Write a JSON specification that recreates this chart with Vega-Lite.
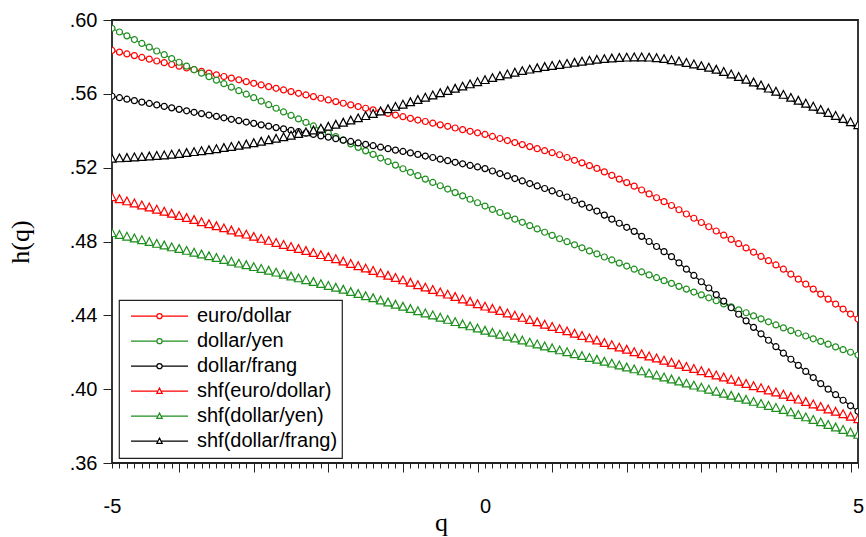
{
"$schema":"https://vega.github.io/schema/vega-lite/v6.json",
"width":746,"height":443,
"autosize":{"type":"none"},
"padding":{"left":112,"top":20,"right":8,"bottom":74},
"background":"white",
"config":{"view":{"stroke":"#222","strokeWidth":1.8},"font":"Liberation Sans"},
"data":{"values":[
{"q":-5.0,"euro/dollar":0.5835,"dollar/yen":0.5955,"dollar/frang":0.5587,"shf(euro/dollar)":0.5026,"shf(dollar/yen)":0.4831,"shf(dollar/frang)":0.5234},
{"q":-4.9,"euro/dollar":0.5826,"dollar/yen":0.5935,"dollar/frang":0.5579,"shf(euro/dollar)":0.5015,"shf(dollar/yen)":0.4821,"shf(dollar/frang)":0.5236},
{"q":-4.8,"euro/dollar":0.5816,"dollar/yen":0.5914,"dollar/frang":0.5571,"shf(euro/dollar)":0.5003,"shf(dollar/yen)":0.4812,"shf(dollar/frang)":0.5238},
{"q":-4.7,"euro/dollar":0.5807,"dollar/yen":0.5894,"dollar/frang":0.5563,"shf(euro/dollar)":0.4992,"shf(dollar/yen)":0.4802,"shf(dollar/frang)":0.5241},
{"q":-4.6,"euro/dollar":0.5797,"dollar/yen":0.5873,"dollar/frang":0.5555,"shf(euro/dollar)":0.4981,"shf(dollar/yen)":0.4793,"shf(dollar/frang)":0.5243},
{"q":-4.5,"euro/dollar":0.5788,"dollar/yen":0.5853,"dollar/frang":0.5548,"shf(euro/dollar)":0.4970,"shf(dollar/yen)":0.4783,"shf(dollar/frang)":0.5246},
{"q":-4.4,"euro/dollar":0.5778,"dollar/yen":0.5832,"dollar/frang":0.5540,"shf(euro/dollar)":0.4958,"shf(dollar/yen)":0.4773,"shf(dollar/frang)":0.5249},
{"q":-4.3,"euro/dollar":0.5769,"dollar/yen":0.5812,"dollar/frang":0.5532,"shf(euro/dollar)":0.4947,"shf(dollar/yen)":0.4764,"shf(dollar/frang)":0.5252},
{"q":-4.2,"euro/dollar":0.5759,"dollar/yen":0.5791,"dollar/frang":0.5524,"shf(euro/dollar)":0.4936,"shf(dollar/yen)":0.4754,"shf(dollar/frang)":0.5256},
{"q":-4.1,"euro/dollar":0.5750,"dollar/yen":0.5771,"dollar/frang":0.5516,"shf(euro/dollar)":0.4924,"shf(dollar/yen)":0.4745,"shf(dollar/frang)":0.5260},
{"q":-4.0,"euro/dollar":0.5740,"dollar/yen":0.5750,"dollar/frang":0.5508,"shf(euro/dollar)":0.4913,"shf(dollar/yen)":0.4735,"shf(dollar/frang)":0.5265},
{"q":-3.9,"euro/dollar":0.5731,"dollar/yen":0.5731,"dollar/frang":0.5500,"shf(euro/dollar)":0.4902,"shf(dollar/yen)":0.4725,"shf(dollar/frang)":0.5270},
{"q":-3.8,"euro/dollar":0.5722,"dollar/yen":0.5712,"dollar/frang":0.5493,"shf(euro/dollar)":0.4890,"shf(dollar/yen)":0.4715,"shf(dollar/frang)":0.5275},
{"q":-3.7,"euro/dollar":0.5712,"dollar/yen":0.5693,"dollar/frang":0.5485,"shf(euro/dollar)":0.4879,"shf(dollar/yen)":0.4706,"shf(dollar/frang)":0.5280},
{"q":-3.6,"euro/dollar":0.5703,"dollar/yen":0.5674,"dollar/frang":0.5478,"shf(euro/dollar)":0.4868,"shf(dollar/yen)":0.4696,"shf(dollar/frang)":0.5286},
{"q":-3.5,"euro/dollar":0.5694,"dollar/yen":0.5655,"dollar/frang":0.5470,"shf(euro/dollar)":0.4857,"shf(dollar/yen)":0.4686,"shf(dollar/frang)":0.5292},
{"q":-3.4,"euro/dollar":0.5685,"dollar/yen":0.5636,"dollar/frang":0.5462,"shf(euro/dollar)":0.4845,"shf(dollar/yen)":0.4676,"shf(dollar/frang)":0.5298},
{"q":-3.3,"euro/dollar":0.5676,"dollar/yen":0.5617,"dollar/frang":0.5455,"shf(euro/dollar)":0.4834,"shf(dollar/yen)":0.4666,"shf(dollar/frang)":0.5304},
{"q":-3.2,"euro/dollar":0.5666,"dollar/yen":0.5598,"dollar/frang":0.5447,"shf(euro/dollar)":0.4823,"shf(dollar/yen)":0.4657,"shf(dollar/frang)":0.5311},
{"q":-3.1,"euro/dollar":0.5657,"dollar/yen":0.5579,"dollar/frang":0.5440,"shf(euro/dollar)":0.4811,"shf(dollar/yen)":0.4647,"shf(dollar/frang)":0.5318},
{"q":-3.0,"euro/dollar":0.5648,"dollar/yen":0.5560,"dollar/frang":0.5432,"shf(euro/dollar)":0.4800,"shf(dollar/yen)":0.4637,"shf(dollar/frang)":0.5326},
{"q":-2.9,"euro/dollar":0.5639,"dollar/yen":0.5541,"dollar/frang":0.5425,"shf(euro/dollar)":0.4789,"shf(dollar/yen)":0.4627,"shf(dollar/frang)":0.5334},
{"q":-2.8,"euro/dollar":0.5630,"dollar/yen":0.5522,"dollar/frang":0.5417,"shf(euro/dollar)":0.4778,"shf(dollar/yen)":0.4617,"shf(dollar/frang)":0.5342},
{"q":-2.7,"euro/dollar":0.5621,"dollar/yen":0.5502,"dollar/frang":0.5410,"shf(euro/dollar)":0.4767,"shf(dollar/yen)":0.4606,"shf(dollar/frang)":0.5350},
{"q":-2.6,"euro/dollar":0.5612,"dollar/yen":0.5483,"dollar/frang":0.5402,"shf(euro/dollar)":0.4756,"shf(dollar/yen)":0.4596,"shf(dollar/frang)":0.5359},
{"q":-2.5,"euro/dollar":0.5603,"dollar/yen":0.5464,"dollar/frang":0.5395,"shf(euro/dollar)":0.4745,"shf(dollar/yen)":0.4586,"shf(dollar/frang)":0.5368},
{"q":-2.4,"euro/dollar":0.5594,"dollar/yen":0.5445,"dollar/frang":0.5387,"shf(euro/dollar)":0.4734,"shf(dollar/yen)":0.4576,"shf(dollar/frang)":0.5377},
{"q":-2.3,"euro/dollar":0.5585,"dollar/yen":0.5426,"dollar/frang":0.5380,"shf(euro/dollar)":0.4723,"shf(dollar/yen)":0.4566,"shf(dollar/frang)":0.5387},
{"q":-2.2,"euro/dollar":0.5576,"dollar/yen":0.5406,"dollar/frang":0.5372,"shf(euro/dollar)":0.4712,"shf(dollar/yen)":0.4555,"shf(dollar/frang)":0.5397},
{"q":-2.1,"euro/dollar":0.5567,"dollar/yen":0.5387,"dollar/frang":0.5365,"shf(euro/dollar)":0.4701,"shf(dollar/yen)":0.4545,"shf(dollar/frang)":0.5407},
{"q":-2.0,"euro/dollar":0.5558,"dollar/yen":0.5368,"dollar/frang":0.5357,"shf(euro/dollar)":0.4690,"shf(dollar/yen)":0.4535,"shf(dollar/frang)":0.5418},
{"q":-1.9,"euro/dollar":0.5549,"dollar/yen":0.5349,"dollar/frang":0.5349,"shf(euro/dollar)":0.4677,"shf(dollar/yen)":0.4524,"shf(dollar/frang)":0.5429},
{"q":-1.8,"euro/dollar":0.5540,"dollar/yen":0.5329,"dollar/frang":0.5342,"shf(euro/dollar)":0.4664,"shf(dollar/yen)":0.4512,"shf(dollar/frang)":0.5441},
{"q":-1.7,"euro/dollar":0.5531,"dollar/yen":0.5310,"dollar/frang":0.5334,"shf(euro/dollar)":0.4652,"shf(dollar/yen)":0.4501,"shf(dollar/frang)":0.5453},
{"q":-1.6,"euro/dollar":0.5522,"dollar/yen":0.5291,"dollar/frang":0.5326,"shf(euro/dollar)":0.4639,"shf(dollar/yen)":0.4489,"shf(dollar/frang)":0.5465},
{"q":-1.5,"euro/dollar":0.5513,"dollar/yen":0.5272,"dollar/frang":0.5319,"shf(euro/dollar)":0.4626,"shf(dollar/yen)":0.4478,"shf(dollar/frang)":0.5477},
{"q":-1.4,"euro/dollar":0.5503,"dollar/yen":0.5252,"dollar/frang":0.5311,"shf(euro/dollar)":0.4613,"shf(dollar/yen)":0.4466,"shf(dollar/frang)":0.5490},
{"q":-1.3,"euro/dollar":0.5494,"dollar/yen":0.5233,"dollar/frang":0.5303,"shf(euro/dollar)":0.4600,"shf(dollar/yen)":0.4455,"shf(dollar/frang)":0.5502},
{"q":-1.2,"euro/dollar":0.5485,"dollar/yen":0.5214,"dollar/frang":0.5295,"shf(euro/dollar)":0.4588,"shf(dollar/yen)":0.4443,"shf(dollar/frang)":0.5515},
{"q":-1.1,"euro/dollar":0.5476,"dollar/yen":0.5194,"dollar/frang":0.5288,"shf(euro/dollar)":0.4575,"shf(dollar/yen)":0.4432,"shf(dollar/frang)":0.5527},
{"q":-1.0,"euro/dollar":0.5467,"dollar/yen":0.5175,"dollar/frang":0.5280,"shf(euro/dollar)":0.4562,"shf(dollar/yen)":0.4420,"shf(dollar/frang)":0.5540},
{"q":-0.9,"euro/dollar":0.5458,"dollar/yen":0.5157,"dollar/frang":0.5272,"shf(euro/dollar)":0.4549,"shf(dollar/yen)":0.4408,"shf(dollar/frang)":0.5552},
{"q":-0.8,"euro/dollar":0.5450,"dollar/yen":0.5138,"dollar/frang":0.5263,"shf(euro/dollar)":0.4536,"shf(dollar/yen)":0.4396,"shf(dollar/frang)":0.5565},
{"q":-0.7,"euro/dollar":0.5441,"dollar/yen":0.5120,"dollar/frang":0.5255,"shf(euro/dollar)":0.4523,"shf(dollar/yen)":0.4385,"shf(dollar/frang)":0.5577},
{"q":-0.6,"euro/dollar":0.5432,"dollar/yen":0.5102,"dollar/frang":0.5246,"shf(euro/dollar)":0.4510,"shf(dollar/yen)":0.4373,"shf(dollar/frang)":0.5589},
{"q":-0.5,"euro/dollar":0.5424,"dollar/yen":0.5084,"dollar/frang":0.5238,"shf(euro/dollar)":0.4498,"shf(dollar/yen)":0.4361,"shf(dollar/frang)":0.5601},
{"q":-0.4,"euro/dollar":0.5415,"dollar/yen":0.5065,"dollar/frang":0.5229,"shf(euro/dollar)":0.4485,"shf(dollar/yen)":0.4349,"shf(dollar/frang)":0.5613},
{"q":-0.3,"euro/dollar":0.5406,"dollar/yen":0.5047,"dollar/frang":0.5221,"shf(euro/dollar)":0.4472,"shf(dollar/yen)":0.4337,"shf(dollar/frang)":0.5625},
{"q":-0.2,"euro/dollar":0.5397,"dollar/yen":0.5029,"dollar/frang":0.5212,"shf(euro/dollar)":0.4459,"shf(dollar/yen)":0.4326,"shf(dollar/frang)":0.5637},
{"q":-0.1,"euro/dollar":0.5389,"dollar/yen":0.5010,"dollar/frang":0.5204,"shf(euro/dollar)":0.4446,"shf(dollar/yen)":0.4314,"shf(dollar/frang)":0.5649},
{"q":0.0,"euro/dollar":0.5380,"dollar/yen":0.4992,"dollar/frang":0.5195,"shf(euro/dollar)":0.4433,"shf(dollar/yen)":0.4302,"shf(dollar/frang)":0.5660},
{"q":0.1,"euro/dollar":0.5369,"dollar/yen":0.4974,"dollar/frang":0.5182,"shf(euro/dollar)":0.4421,"shf(dollar/yen)":0.4291,"shf(dollar/frang)":0.5671},
{"q":0.2,"euro/dollar":0.5358,"dollar/yen":0.4957,"dollar/frang":0.5168,"shf(euro/dollar)":0.4409,"shf(dollar/yen)":0.4281,"shf(dollar/frang)":0.5681},
{"q":0.3,"euro/dollar":0.5347,"dollar/yen":0.4939,"dollar/frang":0.5155,"shf(euro/dollar)":0.4396,"shf(dollar/yen)":0.4270,"shf(dollar/frang)":0.5691},
{"q":0.4,"euro/dollar":0.5336,"dollar/yen":0.4921,"dollar/frang":0.5141,"shf(euro/dollar)":0.4384,"shf(dollar/yen)":0.4260,"shf(dollar/frang)":0.5700},
{"q":0.5,"euro/dollar":0.5325,"dollar/yen":0.4904,"dollar/frang":0.5128,"shf(euro/dollar)":0.4372,"shf(dollar/yen)":0.4249,"shf(dollar/frang)":0.5709},
{"q":0.6,"euro/dollar":0.5314,"dollar/yen":0.4886,"dollar/frang":0.5114,"shf(euro/dollar)":0.4360,"shf(dollar/yen)":0.4238,"shf(dollar/frang)":0.5717},
{"q":0.7,"euro/dollar":0.5303,"dollar/yen":0.4868,"dollar/frang":0.5101,"shf(euro/dollar)":0.4348,"shf(dollar/yen)":0.4228,"shf(dollar/frang)":0.5724},
{"q":0.8,"euro/dollar":0.5292,"dollar/yen":0.4850,"dollar/frang":0.5087,"shf(euro/dollar)":0.4335,"shf(dollar/yen)":0.4217,"shf(dollar/frang)":0.5731},
{"q":0.9,"euro/dollar":0.5281,"dollar/yen":0.4833,"dollar/frang":0.5074,"shf(euro/dollar)":0.4323,"shf(dollar/yen)":0.4207,"shf(dollar/frang)":0.5737},
{"q":1.0,"euro/dollar":0.5270,"dollar/yen":0.4815,"dollar/frang":0.5060,"shf(euro/dollar)":0.4311,"shf(dollar/yen)":0.4196,"shf(dollar/frang)":0.5742},
{"q":1.1,"euro/dollar":0.5255,"dollar/yen":0.4799,"dollar/frang":0.5041,"shf(euro/dollar)":0.4299,"shf(dollar/yen)":0.4186,"shf(dollar/frang)":0.5748},
{"q":1.2,"euro/dollar":0.5240,"dollar/yen":0.4782,"dollar/frang":0.5022,"shf(euro/dollar)":0.4286,"shf(dollar/yen)":0.4175,"shf(dollar/frang)":0.5754},
{"q":1.3,"euro/dollar":0.5226,"dollar/yen":0.4766,"dollar/frang":0.5003,"shf(euro/dollar)":0.4274,"shf(dollar/yen)":0.4165,"shf(dollar/frang)":0.5760},
{"q":1.4,"euro/dollar":0.5211,"dollar/yen":0.4749,"dollar/frang":0.4984,"shf(euro/dollar)":0.4261,"shf(dollar/yen)":0.4155,"shf(dollar/frang)":0.5765},
{"q":1.5,"euro/dollar":0.5196,"dollar/yen":0.4733,"dollar/frang":0.4965,"shf(euro/dollar)":0.4249,"shf(dollar/yen)":0.4145,"shf(dollar/frang)":0.5770},
{"q":1.6,"euro/dollar":0.5177,"dollar/yen":0.4716,"dollar/frang":0.4943,"shf(euro/dollar)":0.4236,"shf(dollar/yen)":0.4134,"shf(dollar/frang)":0.5774},
{"q":1.7,"euro/dollar":0.5158,"dollar/yen":0.4700,"dollar/frang":0.4921,"shf(euro/dollar)":0.4224,"shf(dollar/yen)":0.4124,"shf(dollar/frang)":0.5777},
{"q":1.8,"euro/dollar":0.5138,"dollar/yen":0.4683,"dollar/frang":0.4899,"shf(euro/dollar)":0.4211,"shf(dollar/yen)":0.4114,"shf(dollar/frang)":0.5780},
{"q":1.9,"euro/dollar":0.5119,"dollar/yen":0.4667,"dollar/frang":0.4877,"shf(euro/dollar)":0.4199,"shf(dollar/yen)":0.4103,"shf(dollar/frang)":0.5782},
{"q":2.0,"euro/dollar":0.5100,"dollar/yen":0.4650,"dollar/frang":0.4855,"shf(euro/dollar)":0.4186,"shf(dollar/yen)":0.4093,"shf(dollar/frang)":0.5783},
{"q":2.1,"euro/dollar":0.5079,"dollar/yen":0.4635,"dollar/frang":0.4828,"shf(euro/dollar)":0.4175,"shf(dollar/yen)":0.4082,"shf(dollar/frang)":0.5783},
{"q":2.2,"euro/dollar":0.5058,"dollar/yen":0.4619,"dollar/frang":0.4800,"shf(euro/dollar)":0.4163,"shf(dollar/yen)":0.4071,"shf(dollar/frang)":0.5782},
{"q":2.3,"euro/dollar":0.5037,"dollar/yen":0.4604,"dollar/frang":0.4773,"shf(euro/dollar)":0.4152,"shf(dollar/yen)":0.4060,"shf(dollar/frang)":0.5779},
{"q":2.4,"euro/dollar":0.5016,"dollar/yen":0.4588,"dollar/frang":0.4745,"shf(euro/dollar)":0.4140,"shf(dollar/yen)":0.4049,"shf(dollar/frang)":0.5774},
{"q":2.5,"euro/dollar":0.4995,"dollar/yen":0.4573,"dollar/frang":0.4718,"shf(euro/dollar)":0.4129,"shf(dollar/yen)":0.4038,"shf(dollar/frang)":0.5768},
{"q":2.6,"euro/dollar":0.4972,"dollar/yen":0.4557,"dollar/frang":0.4684,"shf(euro/dollar)":0.4118,"shf(dollar/yen)":0.4027,"shf(dollar/frang)":0.5761},
{"q":2.7,"euro/dollar":0.4949,"dollar/yen":0.4542,"dollar/frang":0.4650,"shf(euro/dollar)":0.4106,"shf(dollar/yen)":0.4016,"shf(dollar/frang)":0.5753},
{"q":2.8,"euro/dollar":0.4926,"dollar/yen":0.4526,"dollar/frang":0.4616,"shf(euro/dollar)":0.4095,"shf(dollar/yen)":0.4005,"shf(dollar/frang)":0.5745},
{"q":2.9,"euro/dollar":0.4903,"dollar/yen":0.4511,"dollar/frang":0.4582,"shf(euro/dollar)":0.4083,"shf(dollar/yen)":0.3994,"shf(dollar/frang)":0.5736},
{"q":3.0,"euro/dollar":0.4880,"dollar/yen":0.4495,"dollar/frang":0.4548,"shf(euro/dollar)":0.4072,"shf(dollar/yen)":0.3983,"shf(dollar/frang)":0.5727},
{"q":3.1,"euro/dollar":0.4857,"dollar/yen":0.4479,"dollar/frang":0.4512,"shf(euro/dollar)":0.4060,"shf(dollar/yen)":0.3972,"shf(dollar/frang)":0.5716},
{"q":3.2,"euro/dollar":0.4834,"dollar/yen":0.4462,"dollar/frang":0.4477,"shf(euro/dollar)":0.4049,"shf(dollar/yen)":0.3961,"shf(dollar/frang)":0.5704},
{"q":3.3,"euro/dollar":0.4811,"dollar/yen":0.4446,"dollar/frang":0.4441,"shf(euro/dollar)":0.4037,"shf(dollar/yen)":0.3950,"shf(dollar/frang)":0.5691},
{"q":3.4,"euro/dollar":0.4788,"dollar/yen":0.4430,"dollar/frang":0.4406,"shf(euro/dollar)":0.4026,"shf(dollar/yen)":0.3939,"shf(dollar/frang)":0.5677},
{"q":3.5,"euro/dollar":0.4765,"dollar/yen":0.4414,"dollar/frang":0.4370,"shf(euro/dollar)":0.4014,"shf(dollar/yen)":0.3928,"shf(dollar/frang)":0.5662},
{"q":3.6,"euro/dollar":0.4742,"dollar/yen":0.4397,"dollar/frang":0.4335,"shf(euro/dollar)":0.4002,"shf(dollar/yen)":0.3917,"shf(dollar/frang)":0.5647},
{"q":3.7,"euro/dollar":0.4719,"dollar/yen":0.4381,"dollar/frang":0.4300,"shf(euro/dollar)":0.3991,"shf(dollar/yen)":0.3906,"shf(dollar/frang)":0.5631},
{"q":3.8,"euro/dollar":0.4696,"dollar/yen":0.4365,"dollar/frang":0.4265,"shf(euro/dollar)":0.3979,"shf(dollar/yen)":0.3895,"shf(dollar/frang)":0.5614},
{"q":3.9,"euro/dollar":0.4673,"dollar/yen":0.4348,"dollar/frang":0.4230,"shf(euro/dollar)":0.3968,"shf(dollar/yen)":0.3884,"shf(dollar/frang)":0.5597},
{"q":4.0,"euro/dollar":0.4650,"dollar/yen":0.4332,"dollar/frang":0.4195,"shf(euro/dollar)":0.3956,"shf(dollar/yen)":0.3873,"shf(dollar/frang)":0.5580},
{"q":4.1,"euro/dollar":0.4623,"dollar/yen":0.4317,"dollar/frang":0.4162,"shf(euro/dollar)":0.3943,"shf(dollar/yen)":0.3860,"shf(dollar/frang)":0.5564},
{"q":4.2,"euro/dollar":0.4596,"dollar/yen":0.4303,"dollar/frang":0.4129,"shf(euro/dollar)":0.3929,"shf(dollar/yen)":0.3846,"shf(dollar/frang)":0.5548},
{"q":4.3,"euro/dollar":0.4569,"dollar/yen":0.4288,"dollar/frang":0.4096,"shf(euro/dollar)":0.3916,"shf(dollar/yen)":0.3833,"shf(dollar/frang)":0.5532},
{"q":4.4,"euro/dollar":0.4542,"dollar/yen":0.4273,"dollar/frang":0.4063,"shf(euro/dollar)":0.3903,"shf(dollar/yen)":0.3819,"shf(dollar/frang)":0.5516},
{"q":4.5,"euro/dollar":0.4515,"dollar/yen":0.4259,"dollar/frang":0.4030,"shf(euro/dollar)":0.3890,"shf(dollar/yen)":0.3806,"shf(dollar/frang)":0.5499},
{"q":4.6,"euro/dollar":0.4488,"dollar/yen":0.4244,"dollar/frang":0.4000,"shf(euro/dollar)":0.3876,"shf(dollar/yen)":0.3792,"shf(dollar/frang)":0.5482},
{"q":4.7,"euro/dollar":0.4461,"dollar/yen":0.4229,"dollar/frang":0.3970,"shf(euro/dollar)":0.3863,"shf(dollar/yen)":0.3778,"shf(dollar/frang)":0.5466},
{"q":4.8,"euro/dollar":0.4434,"dollar/yen":0.4214,"dollar/frang":0.3940,"shf(euro/dollar)":0.3850,"shf(dollar/yen)":0.3765,"shf(dollar/frang)":0.5449},
{"q":4.9,"euro/dollar":0.4407,"dollar/yen":0.4200,"dollar/frang":0.3910,"shf(euro/dollar)":0.3836,"shf(dollar/yen)":0.3751,"shf(dollar/frang)":0.5432},
{"q":5.0,"euro/dollar":0.4380,"dollar/yen":0.4185,"dollar/frang":0.3880,"shf(euro/dollar)":0.3823,"shf(dollar/yen)":0.3738,"shf(dollar/frang)":0.5416}
]},
"transform":[{"fold":["euro/dollar","dollar/yen","dollar/frang","shf(euro/dollar)","shf(dollar/yen)","shf(dollar/frang)"],"as":["series","v"]}],
"encoding":{
"y":{"field":"v","type":"quantitative","scale":{"domain":[0.36,0.6],"nice":false,"zero":false},
"axis":{"orient":"left","values":[0.36,0.4,0.44,0.48,0.52,0.56,0.6],"labelExpr":"replace(format(datum.value,'.2f'),'0.','.')","tickSize":9,"tickColor":"#222","tickWidth":1,"labelPadding":6,"labelFont":"Liberation Sans","labelFontSize":20,"labelColor":"#000","domain":false,"grid":false,"title":"h(q)","titleFont":"Liberation Serif","titleFontSize":26,"titleFontWeight":"normal","titleColor":"#000","titleX":-84,"titleY":221.5,"titleAngle":270,"titleBaseline":"alphabetic","titleAlign":"center"}}
},
"resolve":{"axis":{"x":"independent"}},
"layer":[
{
"mark":{"type":"line","strokeWidth":1.2,"clip":true},
"encoding":{
"x":{"field":"q","type":"quantitative","scale":{"domain":[-5,5],"nice":false,"zero":false},
"axis":{"orient":"bottom","values":[-5,-4.9,-4.8,-4.7,-4.6,-4.5,-4.4,-4.3,-4.2,-4.1,-4,-3.9,-3.8,-3.7,-3.6,-3.5,-3.4,-3.3,-3.2,-3.1,-3,-2.9,-2.8,-2.7,-2.6,-2.5,-2.4,-2.3,-2.2,-2.1,-2,-1.9,-1.8,-1.7,-1.6,-1.5,-1.4,-1.3,-1.2,-1.1,-1,-0.9,-0.8,-0.7,-0.6,-0.5,-0.4,-0.3,-0.2,-0.1,0,0.1,0.2,0.3,0.4,0.5,0.6,0.7,0.8,0.9,1,1.1,1.2,1.3,1.4,1.5,1.6,1.7,1.8,1.9,2,2.1,2.2,2.3,2.4,2.5,2.6,2.7,2.8,2.9,3,3.1,3.2,3.3,3.4,3.5,3.6,3.7,3.8,3.9,4,4.1,4.2,4.3,4.4,4.5,4.6,4.7,4.8,4.9,5],
"tickSize":5,"tickColor":"#222","tickWidth":1,"labels":false,"domain":false,"grid":false,"title":null}},
"color":{"field":"series","type":"nominal",
"scale":{"domain":["euro/dollar","dollar/yen","dollar/frang","shf(euro/dollar)","shf(dollar/yen)","shf(dollar/frang)"],"range":["#ff0000","#1f8f1f","#000000","#ff0000","#1f8f1f","#000000"]},
"legend":{"orient":"none","legendX":7,"legendY":280,"title":null,"strokeColor":"#222","fillColor":"white","padding":4,"labelFont":"Liberation Sans","labelFontSize":20,"labelColor":"#000","labelLimit":400,"symbolSize":3249,"symbolOffset":7,"labelOffset":8,"clipHeight":24.3,"rowPadding":0,"symbolStrokeWidth":1.2,
"encode":{"legend":{"update":{"strokeWidth":{"value":1.2}}},"symbols":{"update":{"shape":{"signal":"indexof(datum.value,'shf')===0 ? 'M-1,0H-0.055M0.055,0H1M0,-0.11L0.095,0.08H-0.095Z' : 'M-1,0H-0.09M0.09,0H1M0.09,0A0.09,0.09 0 1,1 -0.09,0A0.09,0.09 0 1,1 0.09,0Z'"},"fill":{"value":"white"},"opacity":{"value":1}}}}}}
}
},
{
"transform":[{"filter":"indexof(datum.series,'shf')!==0"}],
"mark":{"type":"point","shape":"circle","size":36,"filled":false,"fill":"white","fillOpacity":1,"strokeWidth":1.2,"opacity":1,"clip":true},
"encoding":{
"x":{"field":"q","type":"quantitative","axis":{"orient":"bottom","values":[-4.1,-3.1,-2.1,-1.1,-0.1,0.9,1.9,2.9,3.9,4.9],"tickSize":9,"tickColor":"#222","tickWidth":1,"labels":false,"domain":false,"grid":false,"title":null}},
"color":{"field":"series","type":"nominal","legend":null}
}
},
{
"transform":[{"filter":"indexof(datum.series,'shf')===0"}],
"mark":{"type":"point","shape":"M0,-0.95L0.55,0.1L-0.55,0.1Z","size":220,"filled":false,"fill":"white","fillOpacity":1,"strokeWidth":1.2,"opacity":1,"clip":true},
"encoding":{
"x":{"field":"q","type":"quantitative","axis":{"orient":"bottom","values":[-5,0,5],"ticks":false,"tickSize":0,"domain":false,"grid":false,"labelFont":"Liberation Sans","labelFontSize":20,"labelColor":"#000","labelPadding":33,"labelFlush":false,"labelExpr":"datum.value < 0 ? '-5' : (datum.value > 0 ? '5' : '0')","title":"q","titleFont":"Liberation Serif","titleFontSize":26,"titleFontWeight":"normal","titleColor":"#000","titleX":329,"titleY":67,"titleBaseline":"alphabetic","titleAlign":"center","encode":{"labels":{"update":{"dx":{"signal":"datum.value === 5 ? 8 : 0"}}}}}},
"color":{"field":"series","type":"nominal","legend":null}
}
}
]
}
